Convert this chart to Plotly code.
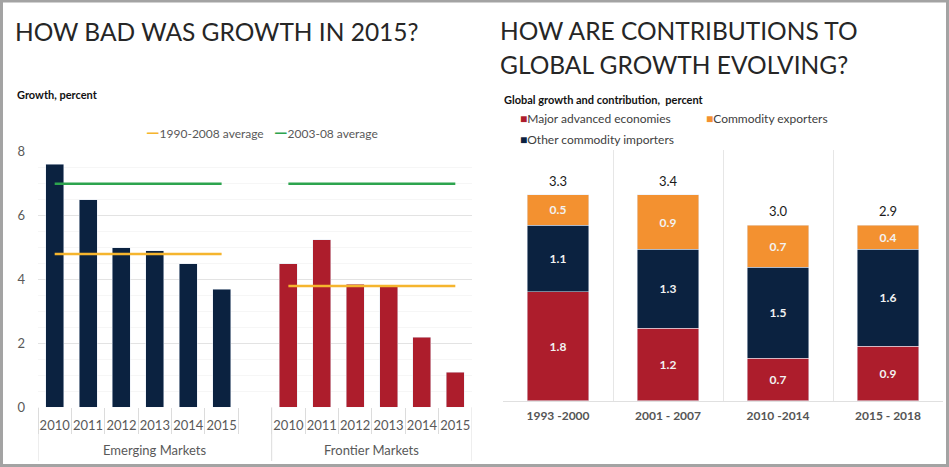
import plotly.graph_objects as go

# ---------------- data ----------------
years = ["2010", "2011", "2012", "2013", "2014", "2015"]
em_growth = [7.6, 6.5, 5.0, 4.9, 4.5, 3.7]
fm_growth = [4.5, 5.25, 3.85, 3.8, 2.2, 1.1]
em_avg_1990_2008 = 4.8
em_avg_2003_08 = 7.0
fm_avg_1990_2008 = 3.8
fm_avg_2003_08 = 7.0
group_labels = ["Emerging Markets", "Frontier Markets"]

periods = ["1993 -2000", "2001 - 2007", "2010 -2014", "2015 - 2018"]
major_adv = [1.8, 1.2, 0.7, 0.9]
other_imp = [1.1, 1.3, 1.5, 1.6]
commod_exp = [0.5, 0.9, 0.7, 0.4]
totals = [3.3, 3.4, 3.0, 2.9]

# ---------------- style ----------------
W, H = 949, 467
FONT = "Lato"
NAVY = "#0b2240"
RED = "#ad1d2c"
ORANGE = "#f39130"
YELLOW = "#f5b52e"
GREEN = "#2da44e"
GRAY_TXT = "#595959"

def px_x(p):
    return p / W

def px_y(p):
    return 1 - p / H

em_cats = ["EM " + y for y in years]
fm_cats = ["FM " + y for y in years]
gap_cat = ["gap"]
all_cats = em_cats + gap_cat + fm_cats
tick_text = years + [""] + years

fig = go.Figure()

# left chart bars
fig.add_trace(go.Bar(x=em_cats, y=em_growth, marker_color=NAVY, width=0.54,
                     xaxis="x", yaxis="y", showlegend=False, hoverinfo="y"))
fig.add_trace(go.Bar(x=fm_cats, y=fm_growth, marker_color=RED, width=0.54,
                     xaxis="x", yaxis="y", showlegend=False, hoverinfo="y"))
# average lines
for cats, val, col in [(em_cats, em_avg_2003_08, GREEN), (fm_cats, fm_avg_2003_08, GREEN),
                       (em_cats, em_avg_1990_2008, YELLOW), (fm_cats, fm_avg_1990_2008, YELLOW)]:
    fig.add_trace(go.Scatter(x=[cats[0], cats[-1]], y=[val, val], mode="lines",
                             line=dict(color=col, width=2.5), xaxis="x", yaxis="y",
                             showlegend=False, hoverinfo="y"))

# right chart stacked bars
for vals, col in [(major_adv, RED), (other_imp, NAVY), (commod_exp, ORANGE)]:
    fig.add_trace(go.Bar(x=periods, y=vals, marker_color=col, width=0.555,
                         text=[f"{v:.1f}" for v in vals], textposition="inside",
                         insidetextanchor="middle", textangle=0,
                         textfont=dict(family=FONT, size=12, color="#f2f2f2", weight="bold"),
                         xaxis="x2", yaxis="y2", showlegend=False, hoverinfo="y"))

stack_tops = [a + b + c for a, b, c in zip(major_adv, other_imp, commod_exp)]

annotations = []
for p, top, t in zip(periods, stack_tops, totals):
    annotations.append(dict(x=p, y=top, xref="x2", yref="y2", text=f"{t:.1f}",
                            showarrow=False, yanchor="bottom", yshift=4,
                            font=dict(family=FONT, size=13, color="#1a1a1a")))

TITLE_FONT = dict(family=FONT, size=24.5, color="#262626")
# titles
annotations += [
    dict(x=px_x(13), y=px_y(32), xref="paper", yref="paper", xanchor="left", yanchor="middle",
         text="HOW BAD WAS GROWTH IN 2015?", showarrow=False, font=TITLE_FONT),
    dict(x=px_x(498), y=px_y(30), xref="paper", yref="paper", xanchor="left", yanchor="middle",
         text="HOW ARE CONTRIBUTIONS TO", showarrow=False, font=TITLE_FONT),
    dict(x=px_x(498), y=px_y(64), xref="paper", yref="paper", xanchor="left", yanchor="middle",
         text="GLOBAL GROWTH EVOLVING?", showarrow=False, font=TITLE_FONT),
    dict(x=px_x(15), y=px_y(95), xref="paper", yref="paper", xanchor="left", yanchor="middle",
         text="<b>Growth, percent</b>", showarrow=False,
         font=dict(family=FONT, size=11, color="#111111")),
    dict(x=px_x(502), y=px_y(99), xref="paper", yref="paper", xanchor="left", yanchor="middle",
         text="<b>Global growth and contribution,  percent</b>", showarrow=False,
         font=dict(family=FONT, size=11, color="#111111")),
]

# left legend
annotations += [
    dict(x=px_x(144), y=px_y(131), xref="paper", yref="paper", xanchor="left", yanchor="middle",
         text=f"<span style='color:{YELLOW};font-size:17px;font-weight:bold'>—</span>1990-2008 average",
         showarrow=False, font=dict(family=FONT, size=12, color=GRAY_TXT)),
    dict(x=px_x(272), y=px_y(131), xref="paper", yref="paper", xanchor="left", yanchor="middle",
         text=f"<span style='color:{GREEN};font-size:17px;font-weight:bold'>—</span>2003-08 average",
         showarrow=False, font=dict(family=FONT, size=12, color=GRAY_TXT)),
]
# right legend
for xx, yy, col, lab in [(518, 119, RED, "Major advanced economies"),
                         (704, 119, ORANGE, "Commodity exporters"),
                         (518, 139, NAVY, "Other commodity importers")]:
    annotations.append(dict(x=px_x(xx), y=px_y(yy), xref="paper", yref="paper",
                            xanchor="left", yanchor="middle",
                            text=f"<span style='color:{col};font-size:12px'>■</span>{lab}",
                            showarrow=False, font=dict(family=FONT, size=12, color="#404040")))

# group labels
annotations += [
    dict(x=(len(em_cats) + len(gap_cat) - 1) / 2, y=px_y(450), xref="x", yref="paper",
         yanchor="middle", text=group_labels[0], showarrow=False,
         font=dict(family=FONT, size=13, color=GRAY_TXT)),
    dict(x=len(em_cats) + len(gap_cat) + (len(fm_cats) - 1) / 2, y=px_y(450), xref="x", yref="paper",
         yanchor="middle", text=group_labels[1], showarrow=False,
         font=dict(family=FONT, size=13, color=GRAY_TXT)),
]

shapes = []
for b in [-0.5, len(em_cats) + len(gap_cat) - 0.5, len(all_cats) - 0.5]:
    shapes.append(dict(type="line", xref="x", yref="paper", x0=b, x1=b,
                       y0=px_y(461), y1=px_y(407.3), line=dict(color="#dcdcdc", width=1)))
# outer frame
shapes.append(dict(type="rect", xref="paper", yref="paper", x0=px_x(1.5), x1=px_x(947.5),
                   y0=px_y(465.5), y1=px_y(1), line=dict(color="#a3a3a3", width=3)))

fig.update_layout(
    width=W, height=H, margin=dict(l=0, r=0, t=0, b=0, autoexpand=False),
    paper_bgcolor="white", plot_bgcolor="white",
    barmode="stack", bargap=0.45,
    font=dict(family=FONT, size=12, color=GRAY_TXT),
    xaxis=dict(domain=[px_x(38), px_x(472)], type="category", categoryorder="array",
               categoryarray=all_cats, range=[-0.5, len(all_cats) - 0.5],
               tickvals=all_cats, ticktext=tick_text, tickson="boundaries", tickangle=0,
               ticks="outside", ticklen=26, tickcolor="#dcdcdc", tickwidth=1,
               ticklabelstandoff=9,
               showgrid=False, showline=False, zeroline=False, automargin=False,
               tickfont=dict(family=FONT, size=13, color=GRAY_TXT), anchor="y"),
    yaxis=dict(domain=[px_y(407.3), px_y(151.7)], range=[0, 8], dtick=2,
               showgrid=True, gridcolor="#e3e3e3", gridwidth=1,
               minor=dict(dtick=0.5, showgrid=True, gridcolor="#f6f6f6"),
               zeroline=False, showline=False, ticks="", automargin=False,
               tickfont=dict(family=FONT, size=13, color=GRAY_TXT), ticklabelstandoff=12,
               anchor="x"),
    xaxis2=dict(domain=[px_x(503), px_x(943)], type="category", categoryorder="array",
                categoryarray=periods, range=[-0.5, len(periods) - 0.5],
                tickson="boundaries", ticks="", showgrid=True, gridcolor="#e6e6e6",
                showline=True, linecolor="#e0e0e0", zeroline=False, tickangle=0, automargin=False,
                ticklabelstandoff=4,
                tickfont=dict(family=FONT, size=12, color="#555555", weight="bold"), anchor="y2"),
    yaxis2=dict(domain=[px_y(400.7), px_y(150)], range=[0, 4.14], showgrid=False, automargin=False,
                showticklabels=False, zeroline=False, showline=False, ticks="", anchor="x2"),
    annotations=annotations, shapes=shapes,
)

post = (
    "var gd=document.getElementById('{plot_id}');"
    "document.documentElement.style.margin='0';document.documentElement.style.padding='0';"
    "document.documentElement.style.overflow='hidden';"
    "document.body.style.margin='0';document.body.style.padding='0';document.body.style.overflow='hidden';"
    "gd.style.position='fixed';gd.style.left='0px';gd.style.top='0px';"
)

fig.write_html("out.html", config={"displayModeBar": False}, post_script=post)
